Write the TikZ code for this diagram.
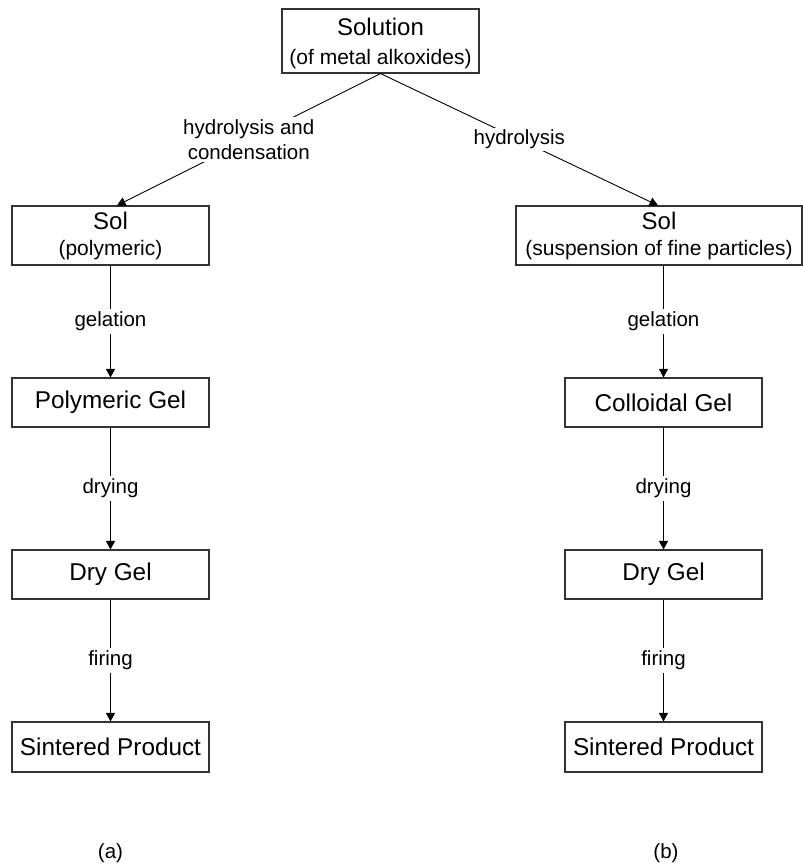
\documentclass[tikz,border=0pt]{standalone}
\usepackage{fontspec}
\setmainfont{Liberation Sans}
\usetikzlibrary{arrows.meta}
\begin{document}
\begin{tikzpicture}[x=1pt,y=-1pt,
  box/.style={draw=black!80, line width=1.1pt, minimum width=197pt, inner sep=0pt, align=center,
     font=\fontsize{24.3}{25}\selectfont},
  twobox/.style={box, minimum height=59pt, font=\fontsize{24}{26}\selectfont},
  onebox/.style={box, minimum height=49pt},
  lbl/.style={fill=white, inner sep=3pt, align=center, font=\fontsize{20.5}{25}\selectfont},
  captxt/.style={font=\fontsize{20.5}{25}\selectfont},
  arr/.style={line width=0.9pt, -{Triangle[length=8.5pt,width=9pt]}}]
\useasboundingbox (0,0) rectangle (803,865);
\node[box, minimum height=64pt, font=\fontsize{24}{28.5}\selectfont] (top) at (380.5,41)
  {\rule{0pt}{22pt}Solution\\{\fontsize{21}{28.5}\selectfont (of metal alkoxides)}};
\node[twobox] (sola) at (110.5,235.5) {Sol\\{\fontsize{21}{26}\selectfont (polymeric)}};
\node[twobox, minimum width=286pt] (solb) at (659,235.5) {Sol\\{\fontsize{21}{26}\selectfont (suspension of fine particles)}};
\node[onebox] (gela) at (110.5,402.5) {Polymeric Gel};
\node[onebox] (gelb) at (663.5,402.5) {Colloidal Gel};
\node[onebox] (drya) at (110.5,574.5) {Dry Gel};
\node[onebox] (dryb) at (663.5,574.5) {Dry Gel};
\node[onebox, minimum height=50pt] (sina) at (110.5,747) {Sintered Product};
\node[onebox, minimum height=50pt] (sinb) at (663.5,747) {Sintered Product};
\node[captxt] (capa) at (110.5,853) {(a)};
\node[captxt] (capb) at (666,853) {(b)};
\draw[arr] (top.south) -- node[lbl, inner sep=2pt]{hydrolysis and\\condensation} ([xshift=6.5pt]sola.north);
\draw[arr] (top.south) -- node[lbl, inner sep=2pt]{hydrolysis} ([xshift=-1pt]solb.north);
\draw[arr] (sola.south) -- node[lbl]{gelation} (gela.north);
\draw[arr] (gela.south) -- node[lbl]{drying} (drya.north);
\draw[arr] (drya.south) -- node[lbl]{firing} (sina.north);
\draw[arr] (gelb.north |- solb.south) -- node[lbl]{gelation} (gelb.north);
\draw[arr] (gelb.south) -- node[lbl]{drying} (dryb.north);
\draw[arr] (dryb.south) -- node[lbl]{firing} (sinb.north);
\end{tikzpicture}
\end{document}
